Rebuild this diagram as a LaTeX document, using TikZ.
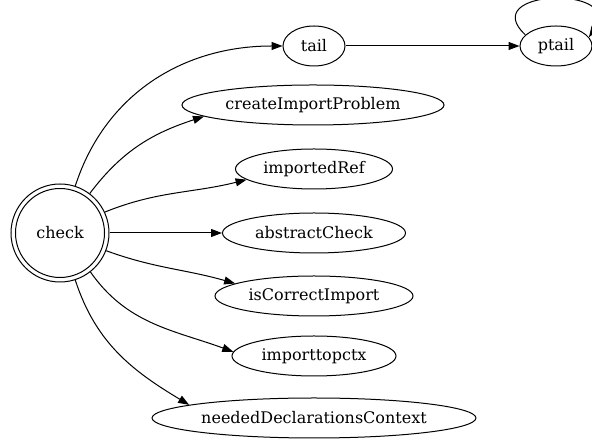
\documentclass[tikz,border=0pt]{standalone}
\usepackage{fontspec}
\setmainfont{DejaVu Serif}
\usetikzlibrary{arrows.meta,shapes.geometric}
\tikzset{
  state/.style={ellipse, draw, line width=1pt, minimum height=40pt, inner sep=0pt,
    font=\fontsize{16}{18}\selectfont},
  start/.style={circle, draw, line width=1pt, minimum size=98pt, inner sep=0pt,
    font=\fontsize{16}{18}\selectfont},
  edge/.style={line width=1pt, -{Triangle[length=11pt,width=8pt]}}
}
\begin{document}
\begin{tikzpicture}[x=1pt,y=1pt]
  \useasboundingbox (0,0) rectangle (592,441);
  % states
  \node[start] (check) at (60,208) {check};
  \draw[line width=1pt] (check.center) circle[radius=44.5pt];
  \node[state, minimum width=62pt]  (tail)  at (314,395) {tail};
  \node[state, minimum width=72pt]  (ptail) at (556,395) {ptail};
  \node[state, minimum width=262pt] (cip)   at (313,336) {createImportProblem};
  \node[state, minimum width=157pt] (iref)  at (314,272) {importedRef};
  \node[state, minimum width=183pt] (abs)   at (314,208) {abstractCheck};
  \node[state, minimum width=198pt] (icor)  at (314,145) {isCorrectImport};
  \node[state, minimum width=164pt] (itop)  at (314,85)  {importtopctx};
  \node[state, minimum width=324pt] (need)  at (314,23)  {neededDeclarationsContext};
  % transitions
  \draw[edge] (check.72) to[out=72,in=180] (tail.west);
  \draw[edge] (check.53) to[out=53,in=198] (cip.186);
  \draw[edge] (check.25) to[out=22,in=194] (iref.189);
  \draw[edge] (check.east) -- (abs.west);
  \draw[edge] (check.-21) to[out=-20,in=164] (icor.171);
  \draw[edge] (check.-52) to[out=-55,in=160] (itop.177);
  \draw[edge] (check.-72) to[out=-72,in=149] (need.174.5);
  \draw[edge] (tail.east) -- (ptail.west);
  \draw[edge] (ptail.160) .. controls (476,452) and (624,456) .. (ptail.15);
\end{tikzpicture}
\end{document}
